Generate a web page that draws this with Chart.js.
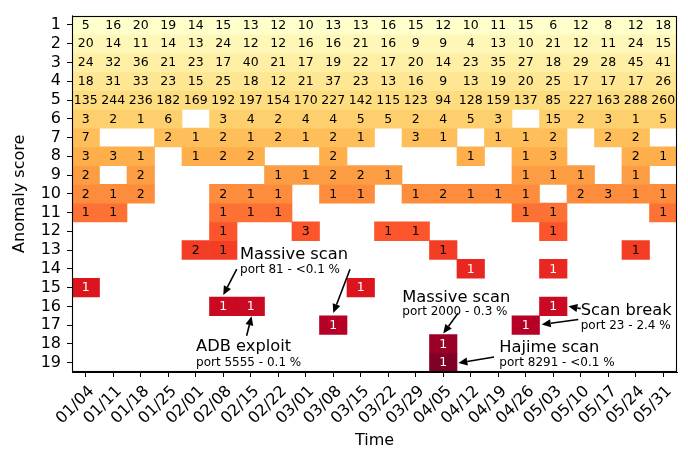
<!DOCTYPE html>
<html><head><meta charset="utf-8">
<script src="https://cdn.jsdelivr.net/npm/chart.js@4.4.0/dist/chart.umd.min.js"></script>
<style>html,body{margin:0;padding:0;background:#fff}#wrap{width:688px;height:454px}</style>
</head><body><div id="wrap"><canvas id="c" width="688" height="454"></canvas></div>
<script>
// ---- data ----
const dates = ['01/04','01/11','01/18','01/25','02/01','02/08','02/15','02/22','03/01','03/08','03/15','03/22','03/29','04/05','04/12','04/19','04/26','05/03','05/10','05/17','05/24','05/31'];
const scores = [1,2,3,4,5,6,7,8,9,10,11,12,13,14,15,16,17,18,19];
const _ = null;
const score1  = [5,16,20,19,14,15,13,12,10,13,13,16,15,12,10,11,15,6,12,8,12,18];
const score2  = [20,14,11,14,13,24,12,12,16,16,21,16,9,9,4,13,10,21,12,11,24,15];
const score3  = [24,32,36,21,23,17,40,21,17,19,22,17,20,14,23,35,27,18,29,28,45,41];
const score4  = [18,31,33,23,15,25,18,12,21,37,23,13,16,9,13,19,20,25,17,17,17,26];
const score5  = [135,244,236,182,169,192,197,154,170,227,142,115,123,94,128,159,137,85,227,163,288,260];
const score6  = [3,2,1,6,_,3,4,2,4,4,5,5,2,4,5,3,_,15,2,3,1,5];
const score7  = [7,_,_,2,1,2,1,2,1,2,1,_,3,1,_,1,1,2,_,2,2,_];
const score8  = [3,3,1,_,1,2,2,_,_,2,_,_,_,_,1,_,1,3,_,_,2,1];
const score9  = [2,_,2,_,_,_,_,1,1,2,2,1,_,_,_,_,1,1,1,_,1,_];
const score10 = [2,1,2,_,_,2,1,1,_,1,1,_,1,2,1,1,1,_,2,3,1,1];
const score11 = [1,1,_,_,_,1,1,1,_,_,_,_,_,_,_,_,1,1,_,_,_,1];
const score12 = [_,_,_,_,_,1,_,_,3,_,_,1,1,_,_,_,_,1,_,_,_,_];
const score13 = [_,_,_,_,2,1,_,_,_,_,_,_,_,1,_,_,_,_,_,_,1,_];
const score14 = [_,_,_,_,_,_,_,_,_,_,_,_,_,_,1,_,_,1,_,_,_,_];
const score15 = [1,_,_,_,_,_,_,_,_,_,1,_,_,_,_,_,_,_,_,_,_,_];
const score16 = [_,_,_,_,_,1,1,_,_,_,_,_,_,_,_,_,_,1,_,_,_,_];
const score17 = [_,_,_,_,_,_,_,_,_,1,_,_,_,_,_,_,1,_,_,_,_,_];
const score18 = [_,_,_,_,_,_,_,_,_,_,_,_,_,1,_,_,_,_,_,_,_,_];
const score19 = [_,_,_,_,_,_,_,_,_,_,_,_,_,1,_,_,_,_,_,_,_,_];
const rows = [score1,score2,score3,score4,score5,score6,score7,score8,score9,score10,score11,score12,score13,score14,score15,score16,score17,score18,score19];

// annotations: text anchored in data coordinates (column index, score)
const notes = [
  {title:'Massive scan', sub:'port 81 - <0.1 %', x:5.61, y:13.24, ys:14.03},
  {title:'ADB exploit', sub:'port 5555 - 0.1 %', x:4.01, y:18.18, ys:19.03},
  {title:'Massive scan', sub:'port 2000 - 0.3 %', x:11.51, y:15.54, ys:16.31},
  {title:'Scan break', sub:'port 23 - 2.4 %', x:18.0, y:16.24, ys:17.05},
  {title:'Hajime scan', sub:'port 8291 - <0.1 %', x:15.04, y:18.21, ys:19.02}
];
const arrows = [
  {from:[5.49,14.02], to:[5.0,15.4]},
  {from:[9.61,14.02], to:[9.0,16.36]},
  {from:[5.85,17.57], to:[6.03,16.53]},
  {from:[13.54,16.36], to:[13.0,17.45]},
  {from:[18.0,16.12], to:[17.55,16.0]},
  {from:[17.91,16.7], to:[16.58,16.97]},
  {from:[14.85,18.7], to:[13.55,19.02]}
];

// ---- style ----
const stops = ['#ffffcc','#ffeda0','#fed976','#feb24c','#fd8d3c','#fc4e2a','#e31a1c','#bd0026','#800026'];
function hex(h){return [1,3,5].map(i=>parseInt(h.substr(i,2),16));}
function ylorrd(t){
  const p=t*(stops.length-1); const i=Math.min(Math.floor(p),stops.length-2); const f=p-i;
  const a=hex(stops[i]), b=hex(stops[i+1]);
  return 'rgb('+a.map((v,k)=>Math.round(v+(b[k]-v)*f)).join(',')+')';
}
const FONT='DejaVu Sans';

const datasets = rows.map((vals,ri)=>{
  const r = scores[ri];
  const col = ylorrd((r-1)/18);
  return {
    label:'score '+r,
    data: vals.map(v => v==null ? null : [r-0.5, r+0.5]),
    counts: vals,
    score: r,
    backgroundColor: col,
    borderColor: col,
    borderWidth: 0,
    borderSkipped: false,
    grouped: false,
    barPercentage: 1,
    categoryPercentage: 1
  };
});

const overlay = {
  id:'overlay',
  afterDatasetsDraw(chart){
    const ctx=chart.ctx;
    ctx.save();
    ctx.textAlign='center'; ctx.textBaseline='middle';
    ctx.font='12.5px "'+FONT+'"';
    chart.data.datasets.forEach((ds,di)=>{
      const meta=chart.getDatasetMeta(di);
      meta.data.forEach((el,i)=>{
        const v=ds.counts[i];
        if(v==null) return;
        const c = el.getCenterPoint();
        ctx.fillStyle = ds.score>=14 ? '#fff' : '#000';
        ctx.fillText(String(v), c.x, c.y+0.5);
      });
    });
    // annotations
    const xs=chart.scales.x, ys=chart.scales.y;
    ctx.fillStyle='#000'; ctx.textAlign='left';
    notes.forEach(n=>{
      ctx.font='16.3px "'+FONT+'"';
      ctx.fillText(n.title, xs.getPixelForValue(n.x), ys.getPixelForValue(n.y));
      ctx.font='12px "'+FONT+'"';
      ctx.fillText(n.sub, xs.getPixelForValue(n.x), ys.getPixelForValue(n.ys));
    });
    ctx.strokeStyle='#000'; ctx.lineWidth=1.6;
    arrows.forEach(ar=>{
      const x1=xs.getPixelForValue(ar.from[0]), y1=ys.getPixelForValue(ar.from[1]);
      const x2=xs.getPixelForValue(ar.to[0]), y2=ys.getPixelForValue(ar.to[1]);
      const ang=Math.atan2(y2-y1,x2-x1), hl=9, hw=4;
      const bx=x2-hl*Math.cos(ang), by=y2-hl*Math.sin(ang);
      ctx.beginPath(); ctx.moveTo(x1,y1); ctx.lineTo(bx,by); ctx.stroke();
      ctx.beginPath();
      ctx.moveTo(x2,y2);
      ctx.lineTo(bx+hw*Math.sin(ang), by-hw*Math.cos(ang));
      ctx.lineTo(bx-hw*Math.sin(ang), by+hw*Math.cos(ang));
      ctx.closePath(); ctx.fill();
    });
    // frame
    const a=chart.chartArea;
    ctx.strokeStyle='#000'; ctx.lineWidth=1.1;
    ctx.strokeRect(Math.round(a.left)+0.5, Math.round(a.top)+0.5, Math.round(a.right-a.left)-1, Math.round(a.bottom-a.top)-1);
    ctx.restore();
  }
};

Chart.defaults.font.family = FONT;
new Chart(document.getElementById('c'), {
  type:'bar',
  data:{labels:dates, datasets},
  options:{
    responsive:false, animation:false,
    layout:{padding:{top:7,right:11,left:0,bottom:0}},
    plugins:{legend:{display:false}, tooltip:{enabled:false}},
    scales:{
      x:{
        type:'category', offset:true,
        grid:{display:true, drawOnChartArea:false, offset:false, tickLength:5, color:'#000', tickColor:'#000'},
        border:{display:true, color:'#000', width:1},
        ticks:{minRotation:45, maxRotation:45, autoSkip:false, color:'#000', padding:5, labelOffset:6, font:{size:16}},
        title:{display:true, text:'Time', color:'#000', font:{size:16}, padding:{top:0,bottom:4}},
        afterFit(s){ s.height = 82; }
      },
      y:{
        type:'linear', min:0.5, max:19.5, reverse:true,
        afterBuildTicks(s){ s.ticks = scores.map(v=>({value:v})); },
        grid:{display:true, drawOnChartArea:false, tickLength:5, color:'#000', tickColor:'#000'},
        border:{display:true, color:'#000', width:1},
        ticks:{autoSkip:false, color:'#000', padding:6, font:{size:16}},
        title:{display:true, text:'Anomaly score', color:'#000', font:{size:16}, padding:{top:10,bottom:2}},
        afterFit(s){ s.width = 72; }
      }
    }
  },
  plugins:[overlay]
});
</script></body></html>
